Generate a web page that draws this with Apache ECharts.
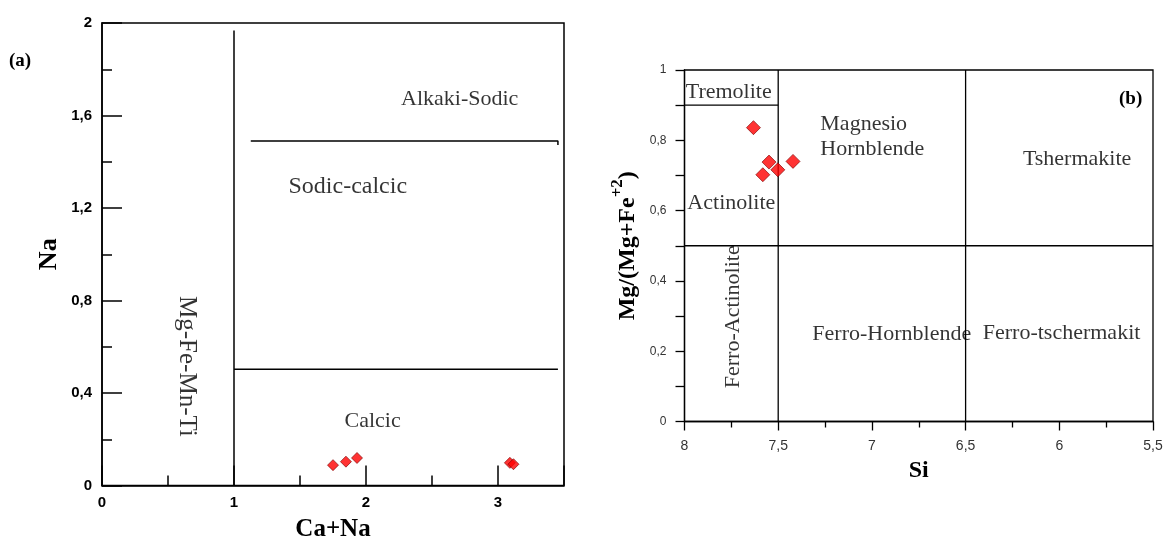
<!DOCTYPE html>
<html>
<head>
<meta charset="utf-8">
<script src="https://cdn.jsdelivr.net/npm/echarts@6/dist/echarts.min.js"></script>
<style>
  html, body { margin: 0; padding: 0; background: #fff; }
  #chart { width: 1164px; height: 541px; }
</style>
</head>
<body>
<div id="chart"></div>
<script>
// ---------- Data: panel (a) Na vs Ca+Na ----------
const leftCaNa = [1.75, 1.848, 1.932, 3.09, 3.117];
const leftNa   = [0.088, 0.103, 0.119, 0.098, 0.092];
const leftXTicks = [0, 1, 2, 3];
const leftYTicks = [0, 0.4, 0.8, 1.2, 1.6, 2];
// boundary segments (data coordinates)
const leftBoundaries = [
  [[1, 0], [1, 1.968]],
  [[1.127, 1.49], [3.454, 1.49], [3.454, 1.472]],
  [[1, 0.503], [3.454, 0.503]]
];
const leftFieldNames = ['Alkaki-Sodic', 'Sodic-calcic', 'Calcic', 'Mg-Fe-Mn-Ti'];
const leftFieldX     = [2.71, 1.862, 2.05, 0.643];
const leftFieldY     = [1.67, 1.294, 0.276, 0.515];

// ---------- Data: panel (b) Mg/(Mg+Fe2+) vs Si ----------
const rightSi   = [7.632, 7.549, 7.582, 7.502, 7.421];
const rightMgNo = [0.836, 0.738, 0.702, 0.716, 0.74];
const rightXTicks = [8, 7.5, 7, 6.5, 6, 5.5];
const rightYTicks = [0, 0.2, 0.4, 0.6, 0.8, 1];
const rightBoundaries = [
  [[7.5, 0], [7.5, 1]],
  [[6.5, 0], [6.5, 1]],
  [[8, 0.5], [5.5, 0.5]],
  [[8, 0.9], [7.5, 0.9]]
];
const rightFieldNames = ['Tremolite', 'Actinolite', 'Tshermakite', 'Ferro-Actinolite', 'Ferro-Hornblende', 'Ferro-tschermakit'];
const rightFieldX     = [7.764, 7.75, 5.905, 7.741, 6.894, 5.988];
const rightFieldY     = [0.938, 0.622, 0.747, 0.298, 0.249, 0.251];
const rightMagnesio   = ['Magnesio', 'Hornblende'];
const rightMagnesioX  = [7.278, 7.278];
const rightMagnesioY  = [0.846, 0.775];

// ---------- helpers ----------
const comma = v => String(+(+v).toFixed(2)).replace('.', ',');
const SERIF = '"Liberation Serif", "Times New Roman", serif';
const SANS = '"Liberation Sans", Arial, sans-serif';
const black = '#000';

function lineSeries(segs, xi, yi, w) {
  return segs.map(seg => ({
    type: 'line', xAxisIndex: xi, yAxisIndex: yi, data: seg,
    symbol: 'none', silent: true, animation: false,
    lineStyle: { color: black, width: w }, z: 3
  }));
}
function labelSeries(names, xs, ys, xi, yi, size, extra) {
  return {
    type: 'scatter', xAxisIndex: xi, yAxisIndex: yi, silent: true, animation: false,
    symbolSize: 1, itemStyle: { color: 'rgba(0,0,0,0)' }, z: 4,
    data: names.map((n, i) => {
      const d = { name: n, value: [xs[i], ys[i]] };
      if (extra && extra[n]) d.label = extra[n];
      return d;
    }),
    label: {
      show: true, position: 'inside', formatter: p => p.name,
      fontFamily: SERIF, fontSize: size, color: '#000'
    }
  };
}

const chart = echarts.init(document.getElementById('chart'), null, { renderer: 'canvas' });

const option = {
  backgroundColor: '#fff',
  animation: false,
  grid: [
    { left: 102, top: 23, width: 462, height: 462.5, show: true, borderColor: black, borderWidth: 1.5, backgroundColor: 'transparent', containLabel: false, outerBoundsMode: 'none' },
    { left: 684.5, top: 70, width: 468.5, height: 351.5, show: true, borderColor: black, borderWidth: 1.3, backgroundColor: 'transparent', containLabel: false, outerBoundsMode: 'none' }
  ],
  xAxis: [
    {
      gridIndex: 0, type: 'value', min: 0, max: 3.5, interval: 1, position: 'bottom',
      axisLine: { show: true, onZero: false, lineStyle: { color: black, width: 1.5 } },
      axisTick: { show: true, inside: true, length: 20, lineStyle: { color: black, width: 1.5 } },
      axisLabel: {
        formatter: v => leftXTicks.includes(v) ? String(v) : '',
        fontFamily: SANS, fontWeight: 'bold', fontSize: 15, color: black, margin: 10
      },
      splitLine: { show: false },
      name: 'Ca+Na', nameLocation: 'middle', nameGap: 32,
      nameTextStyle: { fontFamily: SERIF, fontWeight: 'bold', fontSize: 25, color: black }
    },
    {
      gridIndex: 0, type: 'value', min: 0, max: 3.5, interval: 0.5, position: 'bottom',
      axisLine: { show: false, onZero: false },
      axisTick: { show: true, inside: true, length: 10, lineStyle: { color: black, width: 1.5 } },
      axisLabel: { show: false },
      splitLine: { show: false }
    },
    {
      gridIndex: 1, type: 'value', min: 5.5, max: 8, interval: 0.5, inverse: true, position: 'bottom',
      axisLine: { show: true, onZero: false, lineStyle: { color: black, width: 1.3 } },
      axisTick: { show: true, inside: false, length: 9, lineStyle: { color: black, width: 1.3 } },
      minorTick: { show: true, splitNumber: 2, length: 6, lineStyle: { color: black, width: 1.3 } },
      axisLabel: {
        formatter: v => rightXTicks.some(t => Math.abs(t - v) < 1e-6) ? comma(v) : '',
        fontFamily: SANS, fontSize: 14, color: '#333', margin: 18
      },
      splitLine: { show: false }, minorSplitLine: { show: false },
      name: 'Si', nameLocation: 'middle', nameGap: 36,
      nameTextStyle: { fontFamily: SERIF, fontWeight: 'bold', fontSize: 24, color: black }
    }
  ],
  yAxis: [
    {
      gridIndex: 0, type: 'value', min: 0, max: 2, interval: 0.4,
      axisLine: { show: true, onZero: false, lineStyle: { color: black, width: 1.5 } },
      axisTick: { show: true, inside: true, length: 20, lineStyle: { color: black, width: 1.5 } },
      minorTick: { show: true, splitNumber: 2, length: 10, lineStyle: { color: black, width: 1.5 } },
      axisLabel: {
        formatter: v => leftYTicks.some(t => Math.abs(t - v) < 1e-6) ? comma(v) : '',
        fontFamily: SANS, fontWeight: 'bold', fontSize: 15, color: black, margin: 10
      },
      splitLine: { show: false }, minorSplitLine: { show: false },
      name: 'Na', nameLocation: 'middle', nameGap: 40,
      nameTextStyle: { fontFamily: SERIF, fontWeight: 'bold', fontSize: 26, color: black }
    },
    {
      gridIndex: 1, type: 'value', min: 0, max: 1, interval: 0.2,
      axisLine: { show: true, onZero: false, lineStyle: { color: black, width: 1.3 } },
      axisTick: { show: true, inside: false, length: 9, lineStyle: { color: black, width: 1.3 } },
      minorTick: { show: true, splitNumber: 2, length: 9, lineStyle: { color: black, width: 1.3 } },
      axisLabel: {
        formatter: v => rightYTicks.some(t => Math.abs(t - v) < 1e-6) ? comma(v) : '',
        fontFamily: SANS, fontSize: 12, color: '#333', margin: 18
      },
      splitLine: { show: false }, minorSplitLine: { show: false },
      name: '{a|Mg/(Mg+Fe}{s|+2}{a|)}', nameLocation: 'middle', nameGap: 45,
      nameTextStyle: {
        color: black,
        rich: {
          a: { fontFamily: SERIF, fontWeight: 'bold', fontSize: 24, color: black, lineHeight: 30, verticalAlign: 'bottom' },
          s: { fontFamily: SERIF, fontWeight: 'bold', fontSize: 17, color: black, verticalAlign: 'top', lineHeight: 30 }
        }
      }
    }
  ],
  graphic: [
    { type: 'text', left: 9, top: 52, style: { text: '(a)', font: 'bold 19px ' + SERIF, fill: black } },
    { type: 'text', left: 1119, top: 90, style: { text: '(b)', font: 'bold 19px ' + SERIF, fill: black } }
  ],
  series: [
    ...lineSeries(leftBoundaries, 0, 0, 1.5),
    ...lineSeries(rightBoundaries, 2, 1, 1.3),
    labelSeries(leftFieldNames, leftFieldX, leftFieldY, 0, 0, 22, {
      'Sodic-calcic': { fontSize: 24 },
      'Mg-Fe-Mn-Ti': { rotate: -90, fontSize: 25 }
    }),
    labelSeries(rightFieldNames, rightFieldX, rightFieldY, 2, 1, 22, { 'Ferro-Actinolite': { rotate: 90 } }),
    {
      type: 'scatter', xAxisIndex: 2, yAxisIndex: 1, silent: true, animation: false,
      symbolSize: 1, itemStyle: { color: 'rgba(0,0,0,0)' }, z: 4,
      data: rightMagnesio.map((n, i) => ({ name: n, value: [rightMagnesioX[i], rightMagnesioY[i]] })),
      label: { show: true, position: 'right', distance: 0, formatter: p => p.name, fontFamily: SERIF, fontSize: 22, color: '#000' }
    },
    {
      type: 'scatter', xAxisIndex: 0, yAxisIndex: 0, symbol: 'diamond', symbolSize: 11,
      data: leftCaNa.map((x, i) => [x, leftNa[i]]),
      itemStyle: { color: '#ff0000', borderColor: '#7a0000', borderWidth: 0.8 }, z: 5
    },
    {
      type: 'scatter', xAxisIndex: 2, yAxisIndex: 1, symbol: 'diamond', symbolSize: 14,
      data: rightSi.map((x, i) => [x, rightMgNo[i]]),
      itemStyle: { color: '#ff0000', borderColor: '#7a0000', borderWidth: 0.8 }, z: 5
    }
  ]
};
chart.setOption(option);
</script>
</body>
</html>
